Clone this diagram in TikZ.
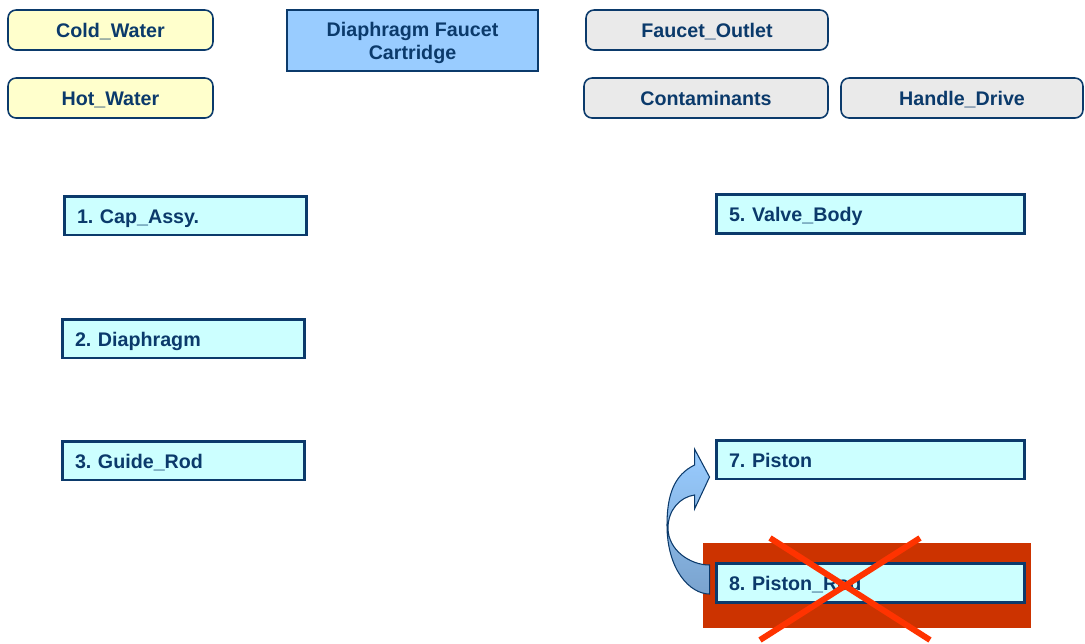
\documentclass[tikz,border=0pt]{standalone}
\usepackage{fontspec}
\setmainfont{Liberation Sans}
\usepackage{tikz}
\usetikzlibrary{calc}

\definecolor{navy}{HTML}{0B3A6B}
\definecolor{paleyellow}{HTML}{FFFFCC}
\definecolor{palegray}{HTML}{EAEAEA}
\definecolor{palecyan}{HTML}{CCFFFF}
\definecolor{skyblue}{HTML}{99CCFF}
\definecolor{steelblue}{HTML}{7AA3CE}
\definecolor{brick}{HTML}{CC3300}
\definecolor{crossred}{HTML}{FF3300}

\begin{document}
\frenchspacing
\begin{tikzpicture}[x=0.02cm, y=-0.02cm,
	every node/.style={font=\fontsize{11.2}{13}\selectfont\bfseries, text=navy},
	inbox/.style={draw=navy, line width=0.9pt, rounded corners=0.16cm, minimum height=0.8cm, align=center, text height=11pt, text depth=2pt},
	partbox/.style={draw=navy, line width=1.7pt, fill=palecyan, minimum height=0.78cm, inner xsep=0.26cm, align=left, text height=11pt, text depth=2pt}]
	\useasboundingbox (0,0) rectangle (1085,643);

	% inputs and outputs
	\node[inbox, fill=paleyellow, minimum width=4.1cm] (cold) at (110.5,30) {Cold\_Water};
	\node[inbox, fill=paleyellow, minimum width=4.1cm] (hot) at (110.5,98) {Hot\_Water};
	\node[draw=navy, line width=1.4pt, fill=skyblue, minimum width=5.02cm, minimum height=1.22cm, align=center, text depth=0pt] (title) at (412.5,40.5) {Diaphragm Faucet\\Cartridge};
	\node[inbox, fill=palegray, minimum width=4.84cm] (outlet) at (707,30) {Faucet\_Outlet};
	\node[inbox, fill=palegray, minimum width=4.88cm] (dirt) at (706,98) {Contaminants};
	\node[inbox, fill=palegray, minimum width=4.84cm] (handle) at (962,98) {Handle\_Drive};

	% parts
	\node[partbox, text width=4.34cm] (cap) at (185.5,215.5) {1. Cap\_Assy.};
	\node[partbox, text width=4.34cm] (diaph) at (183.5,338.5) {2. Diaphragm};
	\node[partbox, text width=4.34cm] (guide) at (183.5,460.5) {3. Guide\_Rod};
	\node[partbox, text width=5.66cm] (valve) at (870.5,214) {5. Valve\_Body};
	\node[partbox, text width=5.66cm] (piston) at (870.5,459.5) {7. Piston};

	% removed part
	\fill[brick] (703,543) rectangle (1031,628);
	\node[partbox, text width=5.66cm] (rod) at (870.5,582.5) {8. Piston\_Rod};
	\draw[crossred, line width=3.4pt] (770,538) -- (930,640);
	\draw[crossred, line width=3.4pt] (920,538) -- (760,640);

	% merge arrow
	\coordinate (tip) at ($(piston.west)+(-5,17.5)$);
	\draw[navy, line width=0.6pt, top color=skyblue, bottom color=steelblue]
		($(rod.west)+(-5,-17.5)$) .. controls (690,565) and (668,550) .. (668,528)
		.. controls (668,510) and (680,497) .. ($(tip)+(-15,18)$)
		-- ($(tip)+(-15,32)$) -- (tip) -- ($(tip)+(-15,-28)$) -- ($(tip)+(-15,-12)$)
		.. controls (674,475) and (667,495) .. (667,525)
		.. controls (667,570) and (690,594) .. ($(rod.west)+(-5,11.5)$) -- cycle;
\end{tikzpicture}
\end{document}
